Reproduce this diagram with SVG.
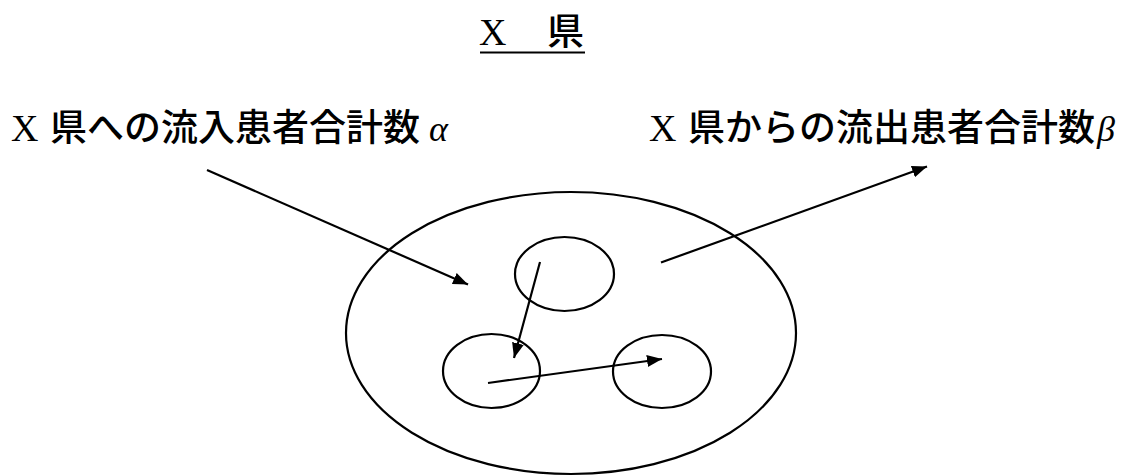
<svg xmlns="http://www.w3.org/2000/svg" width="1131" height="476" viewBox="0 0 1131 476">
<style>
.lat{font-family:"Liberation Serif",serif;font-size:38px;fill:#000}
.cjk{font-family:"Noto Sans CJK JP",sans-serif;font-size:37px;font-weight:500;fill:#000}
.gr{font-family:"Liberation Serif",serif;font-style:italic;font-size:36px;fill:#000}
.ring{fill:none;stroke:#000;stroke-width:2.2}
.conn{fill:none;stroke:#000;stroke-width:2.2}
</style>
<defs>
<marker id="ah" markerUnits="userSpaceOnUse" markerWidth="16" markerHeight="12" refX="15" refY="6" orient="auto">
<path d="M0,0 L15,6 L0,12 z" fill="#000"/>
</marker>
</defs>
<rect width="1131" height="476" fill="#fff"/>
<g id="title">
<text y="45"><tspan class="lat" x="479">X</tspan><tspan class="cjk" x="547">県</tspan></text>
<line x1="480" y1="52.5" x2="585" y2="52.5" stroke="#000" stroke-width="2"/>
</g>
<g id="label-inflow">
<text y="141"><tspan class="lat" x="11">X</tspan><tspan class="cjk" x="50">県への流入患者合計数</tspan><tspan class="gr" x="429">α</tspan></text>
</g>
<g id="label-outflow">
<text y="141"><tspan class="lat" x="649">X</tspan><tspan class="cjk" x="688">県からの流出患者合計数</tspan><tspan class="gr" x="1097">β</tspan></text>
</g>
<g id="prefecture">
<ellipse class="ring" cx="571" cy="333" rx="225" ry="141"/>
</g>
<g id="area-top">
<ellipse class="ring" cx="564.5" cy="274" rx="49.5" ry="37"/>
</g>
<g id="area-left">
<ellipse class="ring" cx="491.5" cy="371" rx="48.5" ry="37"/>
</g>
<g id="area-right">
<ellipse class="ring" cx="662" cy="371.5" rx="49" ry="36.5"/>
</g>
<g id="connectors">
<line class="conn" x1="207" y1="170" x2="468" y2="284.5" marker-end="url(#ah)"/>
<line class="conn" x1="661" y1="262.5" x2="927" y2="166.5" marker-end="url(#ah)"/>
<line class="conn" x1="540" y1="262" x2="514" y2="358" marker-end="url(#ah)"/>
<line class="conn" x1="488" y1="383" x2="662" y2="359" marker-end="url(#ah)"/>
</g>
</svg>
